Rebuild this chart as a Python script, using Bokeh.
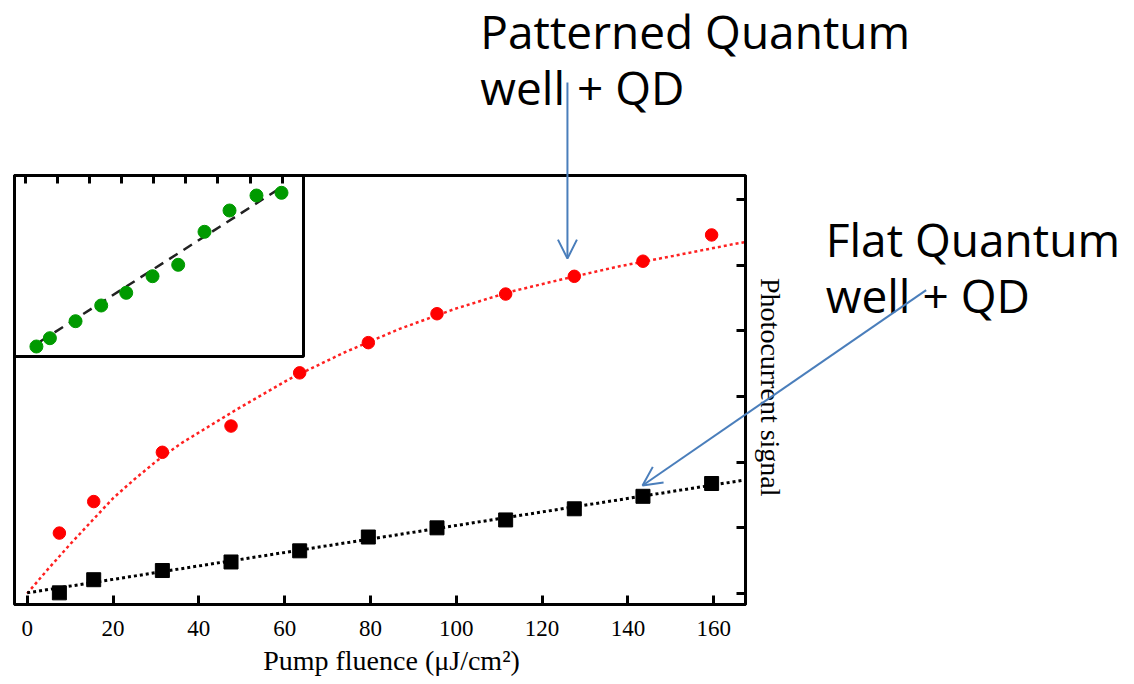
import math
from bokeh.plotting import figure
from bokeh.models import Range1d, LinearAxis, FixedTicker, Label, Arrow, OpenHead
from bokeh.embed import file_html
from bokeh.resources import INLINE

# ---- data ----
fluence = [7.5, 15.5, 31.5, 47.5, 63.5, 79.5, 95.5, 111.5, 127.5, 143.5, 159.5]
patterned = [0.92, 1.40, 2.15, 2.55, 3.36, 3.82, 4.26, 4.56, 4.83, 5.06, 5.46]
flat = [0.01, 0.21, 0.35, 0.48, 0.65, 0.86, 1.00, 1.12, 1.29, 1.48, 1.675]

patterned_fit_x = [0, 4.3, 10, 15, 20, 25, 30, 35.7, 48.5, 61.2, 73.9, 86.8, 99.5, 112.3, 125, 137.8, 150.5, 165.4, 167.4]
patterned_fit_y = [0, 0.33, 0.75, 1.10, 1.45, 1.74, 2.01, 2.28, 2.79, 3.27, 3.67, 4.03, 4.33, 4.59, 4.79, 4.98, 5.14, 5.33, 5.35]
flat_fit_x = [0, 80, 167.4]
flat_fit_y = [0.01, 0.83, 1.73]

inset_x = [1.7, 3.8, 7.8, 11.8, 15.7, 19.8, 23.8, 27.9, 31.8, 36.0, 39.9]
inset_y = [1.0, 1.83, 3.53, 5.1, 6.37, 8.03, 9.17, 12.47, 14.6, 16.1, 16.37]
inset_fit_x = [2.3, 40.1]
inset_fit_y = [1.5, 17.0]

x_ticks = [0, 20, 40, 60, 80, 100, 120, 140, 160]
y_ticks = [0, 1, 2, 3, 4, 5, 6]
inset_ticks = [0, 5, 10, 15, 20, 25, 30, 35, 40]

# plotting box limits (data units)
X_MIN, X_MAX = -2.96, 167.4
Y_MIN, Y_MAX = -0.1675, 6.365
IX_MIN, IX_MAX = -1.714, 43.33
IY_MIN, IY_MAX = 0.0, 18.1

SERIF = "Liberation Serif"
SANS = "Open Sans"
BLUE = "#4a7ebb"

p = figure(width=1134, height=684, min_border=0,
           x_range=Range1d(-6.222, 258.05), y_range=Range1d(-1.3857, 9.030),
           x_axis_location=None, y_axis_location=None,
           output_backend="svg", toolbar_location=None,
           background_fill_color="white", border_fill_color="white")
p.extra_x_ranges = {"ix": Range1d(-3.8965, 172.85)}
p.extra_y_ranges = {"iy": Range1d(-32.8, 35.6)}
p.grid.visible = False
p.outline_line_color = None

# main box
p.quad(left=[X_MIN], right=[X_MAX], bottom=[Y_MIN], top=[Y_MAX], fill_color=None,
       line_color="black", line_width=3)

# bottom axis
xa = LinearAxis(ticker=FixedTicker(ticks=x_ticks), fixed_location=Y_MIN, bounds=(X_MIN, X_MAX))
xa.major_tick_in = 9
xa.major_tick_out = 0
xa.minor_tick_line_color = None
xa.axis_line_width = 3
xa.major_tick_line_width = 3
xa.major_label_text_font = SERIF
xa.major_label_text_font_size = "23px"
xa.major_label_text_color = "black"
xa.major_label_standoff = 16
p.add_layout(xa, "below")

# right axis (ticks only)
ya = LinearAxis(ticker=FixedTicker(ticks=y_ticks), fixed_location=X_MAX, bounds=(Y_MIN, Y_MAX))
ya.major_tick_in = 9
ya.major_tick_out = 0
ya.minor_tick_line_color = None
ya.axis_line_width = 3
ya.major_tick_line_width = 3
ya.major_label_text_color = None
p.add_layout(ya, "right")

# main data
p.line(patterned_fit_x, patterned_fit_y, line_color="#ff2020", line_width=2.5, line_dash="3 3")
p.line(flat_fit_x, flat_fit_y, line_color="black", line_width=3, line_dash="3 3")
p.scatter(fluence, patterned, marker="circle", size=12.5, fill_color="#ff0000", line_color="#ff0000")
p.scatter(fluence, flat, marker="square", size=14, fill_color="black", line_color="black")

# inset
p.quad(left=[IX_MIN], right=[IX_MAX], bottom=[IY_MIN], top=[IY_MAX], x_range_name="ix", y_range_name="iy",
       fill_color="white", line_color="black", line_width=3)
p.line(inset_fit_x, inset_fit_y, x_range_name="ix", y_range_name="iy",
       line_color="#222222", line_width=2.5, line_dash="10 7")
p.scatter(inset_x, inset_y, x_range_name="ix", y_range_name="iy", marker="circle", size=13,
          fill_color="#009a00", line_color="#009a00")
ia = LinearAxis(x_range_name="ix", y_range_name="iy", ticker=FixedTicker(ticks=inset_ticks),
                fixed_location=IY_MAX, bounds=(IX_MIN, IX_MAX))
ia.major_tick_in = 8
ia.major_tick_out = 0
ia.major_tick_line_width = 3
ia.axis_line_width = 3
ia.minor_tick_line_color = None
ia.major_label_text_color = None
p.add_layout(ia, "above")

# axis titles
p.add_layout(Label(x=84.9, y=-1.02, text="Pump fluence (\u03bcJ/cm\u00b2)", text_align="center",
                   text_baseline="alphabetic", text_font=SERIF, text_font_size="28px", text_color="black"))
p.add_layout(Label(x=173.2, y=3.14, text="Photocurrent signal", angle=-math.pi / 2,
                   text_align="center", text_baseline="middle", text_font=SERIF,
                   text_font_size="28px", text_color="black"))

# annotations
for txt, x, y in [("Patterned Quantum", 105.6, 8.573), ("well + QD", 105.6, 7.720),
                  ("Flat Quantum", 186.1, 5.391), ("well + QD", 186.1, 4.538)]:
    p.add_layout(Label(x=x, y=y, text=txt, text_align="left", text_baseline="alphabetic",
                       text_font=SANS, text_font_size="46px", text_color="black"))

p.add_layout(Arrow(x_start=125.9, y_start=7.78, x_end=125.9, y_end=5.10, line_color=BLUE, line_width=2,
                   end=OpenHead(size=19, line_color=BLUE, line_width=2)))
p.add_layout(Arrow(x_start=209.5, y_start=4.62, x_end=143.4, y_end=1.645, line_color=BLUE, line_width=2,
                   end=OpenHead(size=19, line_color=BLUE, line_width=2)))

open("out.html", "w").write(file_html(p, INLINE))
